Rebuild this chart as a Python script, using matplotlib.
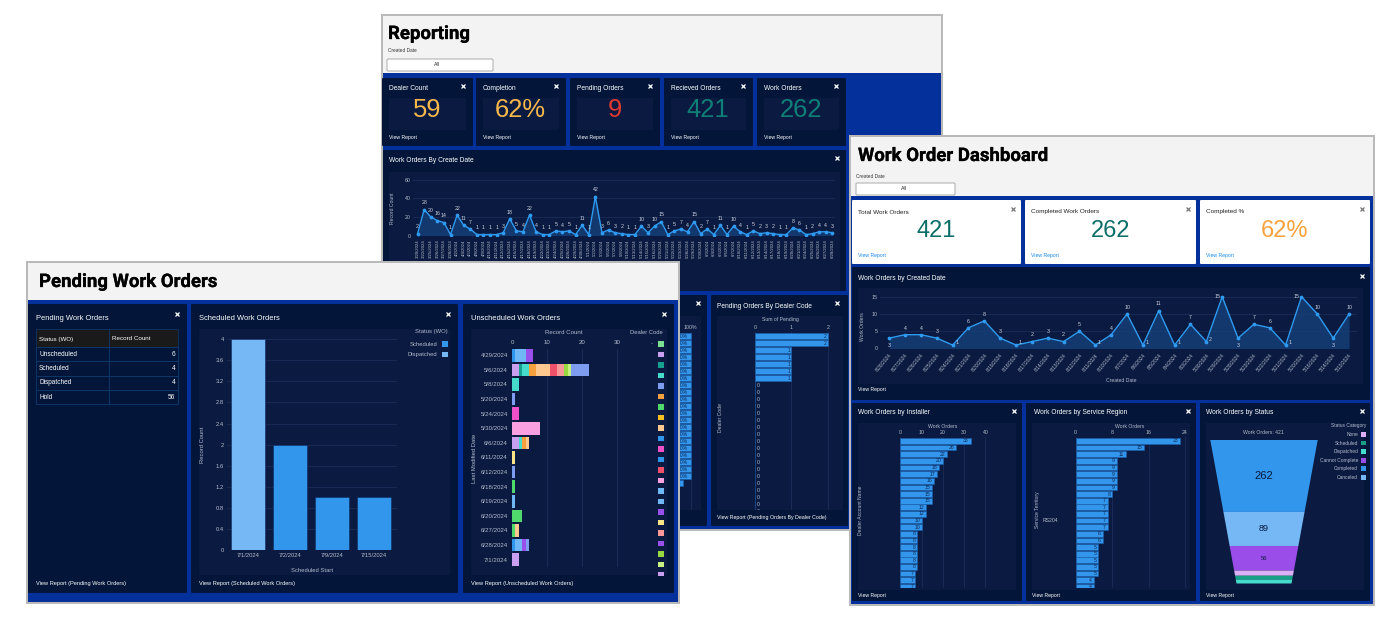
import numpy as np
import matplotlib
matplotlib.use('Agg')
import matplotlib.pyplot as plt
import matplotlib.patheffects as pe
from matplotlib.patches import Rectangle, FancyBboxPatch

plt.rcParams['font.family'] = ['Liberation Sans', 'DejaVu Sans']

W, H = 1392, 629

# data
report_values = [2, 28, 20, 16, 14, 1, 22, 11, 7, 1, 1, 1, 1, 3, 18, 5, 4, 22, 4, 1, 1, 5, 4, 5, 1, 11, 1, 42, 3, 6, 3,
                 2, 1, 1, 10, 3, 10, 15, 1, 5, 7, 4, 15, 2, 7, 1, 11, 1, 10, 4, 1, 5, 2, 3, 2, 1, 1, 8, 6, 1, 2, 4, 4, 3]
report_dates = ['3/20/2024', '3/22/2024', '3/25/2024', '3/26/2024', '3/27/2024', '3/28/2024', '4/2/2024', '4/4/2024',
                '4/5/2024', '4/8/2024', '4/9/2024', '4/10/2024', '4/11/2024', '4/12/2024', '4/15/2024', '4/16/2024',
                '4/17/2024', '4/18/2024', '4/19/2024', '4/22/2024', '4/23/2024', '4/24/2024', '4/25/2024', '4/26/2024',
                '4/29/2024', '4/30/2024', '5/1/2024', '5/2/2024', '5/3/2024', '5/6/2024', '5/7/2024', '5/8/2024',
                '5/10/2024', '5/13/2024', '5/14/2024', '5/15/2024', '5/16/2024', '5/20/2024', '5/21/2024', '5/22/2024',
                '5/23/2024', '5/28/2024', '5/29/2024', '5/30/2024', '6/3/2024', '6/4/2024', '6/5/2024', '6/6/2024',
                '6/7/2024', '6/10/2024', '6/11/2024', '6/12/2024', '6/13/2024', '6/14/2024', '6/17/2024', '6/18/2024',
                '6/19/2024', '6/20/2024', '6/21/2024', '6/24/2024', '6/25/2024', '6/26/2024', '6/27/2024', '6/28/2024']

dash_values = [3, 4, 4, 3, 1, 6, 8, 3, 1, 2, 3, 2, 5, 1, 4, 10, 1, 11, 1, 7, 2, 15, 3, 7, 6, 1, 15, 10, 3, 10]
dash_dates = ['6/28/2024', '6/27/2024', '6/26/2024', '6/25/2024', '6/24/2024', '6/21/2024', '6/20/2024', '6/19/2024',
              '6/18/2024', '6/17/2024', '6/14/2024', '6/13/2024', '6/12/2024', '6/11/2024', '6/10/2024', '6/7/2024',
              '6/6/2024', '6/5/2024', '6/4/2024', '6/3/2024', '5/30/2024', '5/29/2024', '5/28/2024', '5/23/2024',
              '5/22/2024', '5/21/2024', '5/20/2024', '5/16/2024', '5/14/2024', '5/13/2024']

installer_values = [33, 26, 22, 20, 18, 17, 16, 15, 15, 15, 12, 12, 10, 10, 8, 8, 8, 8, 8, 8, 7, 7, 7]
region_values = [23, 15, 11, 9, 9, 9, 9, 9, 8, 7, 7, 7, 7, 7, 6, 6, 5, 5, 5, 5, 5, 4, 4]
dealer_pending = [2, 2, 1, 1, 1, 1, 1] + [0] * 19
completion_pct = [100] * 21 + [97]

status_names = ['Completed', 'Canceled', 'Cannot Complete', 'None', 'Scheduled', 'Dispatched']
status_values = [262, 89, 56, 6, 4, 4]
status_legend = ['None', 'Scheduled', 'Dispatched', 'Cannot Complete', 'Completed', 'Canceled']

table_rows = ['Unscheduled', 'Scheduled', 'Dispatched', 'Hold']
table_counts = [6, 4, 4, 56]

sched_dates = ['7/1/2024', '7/2/2024', '7/9/2024', '7/15/2024']
sched_dispatched = [4, 0, 0, 0]
sched_scheduled = [0, 2, 1, 1]

unsched_dates = ['4/29/2024', '5/6/2024', '5/8/2024', '5/20/2024', '5/24/2024', '5/30/2024', '6/6/2024', '6/11/2024',
                 '6/12/2024', '6/18/2024', '6/19/2024', '6/20/2024', '6/27/2024', '6/28/2024', '7/1/2024']
# one list per date, dealer index and count for each stacked piece
unsched_dealers = [[9, 14, 16], [1, 2, 3, 5, 8, 12, 18, 20, 21, 4], [3], [4], [10], [13], [1, 3, 5, 8], [17], [4], [6],
                   [14], [6], [6, 8], [9, 14, 16, 4], [1]]
unsched_counts = [[1, 3, 2], [2, 1, 2, 2, 4, 2, 2, 1, 1, 5], [2], [1], [2], [8], [2, 1, 1, 1], [1], [1], [1],
                  [1], [3], [1, 1], [1, 2, 1, 1], [2]]
dealer_colors = ['#7be38f', '#c9a0f0', '#16a090', '#45dccb', '#7f9df0', '#f5a03c', '#4fd86c', '#f5c020', '#fcc890',
                 '#2f96ec', '#f050c8', '#2f96ec', '#f0506a', '#f8a0e0', '#70b8f5', '#70b8f5', '#9a50ea', '#fce488',
                 '#f89898', '#9a50ea', '#98d840', '#c8f080', '#c9a0f0']

# colours
BORDER = '#b9b9b9'
HEADER = '#f3f3f3'
BLUE = '#04309c'
PANEL = '#031639'
INNER = '#0a1a40'
GRID = '#1b2d58'
TICK = '#b4bdcc'
LINE = '#2f9bf0'
BAR = '#3296ed'
LIGHT = '#76b8f5'
PURPLE = '#9b4dea'
status_colors = {'Completed': BAR, 'Canceled': LIGHT, 'Cannot Complete': PURPLE, 'None': '#dcb0f5',
                 'Scheduled': '#16a085', 'Dispatched': '#45dccb'}

fig = plt.figure(figsize=(W / 100, H / 100), dpi=100, facecolor='white')


def layer(z):
    ax = fig.add_axes([0, 0, 1, 1], zorder=z)
    ax.set_xlim(0, W)
    ax.set_ylim(H, 0)
    ax.axis('off')
    return ax


def box(ax, x0, y0, x1, y1, color, edge='none', lw=0, rounded=False):
    if rounded:
        ax.add_patch(FancyBboxPatch((x0 + 1, y0 + 1), x1 - x0 - 2, y1 - y0 - 2, boxstyle='round,pad=1',
                                    fc=color, ec=edge, lw=lw))
    else:
        ax.add_patch(Rectangle((x0, y0), x1 - x0, y1 - y0, fc=color, ec=edge, lw=lw))


def txt(ax, x, y, s, size=4.8, color='white', ha='left', **kw):
    ax.text(x, y, s, fontsize=size, color=color, ha=ha, va='center', **kw)


def heading(ax, x, y, s):
    # the font has no heavier face here, so stroke it a little
    t = ax.text(x, y, s, fontsize=13.4, color='black', va='center', family='Roboto', weight='bold')
    t.set_path_effects([pe.withStroke(linewidth=0.2, foreground='black')])


def icon(ax, x, y, color='white'):
    ax.plot([x], [y], marker='x', ms=3, mew=0.9, color=color, ls='none')


def chart_axes(x0, y0, x1, y1, z):
    ax = fig.add_axes([x0 / W, 1 - y1 / H, (x1 - x0) / W, (y1 - y0) / H], zorder=z)
    ax.patch.set_visible(False)
    for s in ax.spines.values():
        s.set_visible(False)
    ax.tick_params(length=0, labelcolor=TICK, labelsize=3.8, pad=1.5)
    ax.set_axisbelow(True)
    return ax


def line_chart(ax, values, dates, rotation, below=(), right=(), left=()):
    xs = np.arange(len(values))
    ax.fill_between(xs, values, 0, color='#15407a', alpha=0.8, lw=0)
    ax.plot(xs, values, color=LINE, lw=1.0, marker='o', ms=1.7)
    for i, v in enumerate(values):
        off = (0, 3.0)
        if i in below:
            off = (0, -5.5)
        elif i in right:
            off = (3, 1.5)
        elif i in left:
            off = (-3.5, 0)
        ax.annotate(str(v), (i, v), xytext=off, textcoords='offset points', ha='center', va='center' if off[1] < 3 else 'bottom',
                    fontsize=3.8, color='#ccd3df')
    ax.set_xticks(xs)
    if rotation == 90:
        ax.set_xticklabels(dates, rotation=90, fontsize=3.1)
    else:
        ax.set_xticklabels(dates, rotation=rotation, fontsize=3.5, ha='right', rotation_mode='anchor')
    ax.tick_params(axis='x', pad=3)
    ax.grid(axis='y', color=GRID, lw=0.6)


def hbars(ax, values, color=BAR):
    ys = np.arange(len(values))
    ax.barh(ys, values, height=0.86, color=color, edgecolor='#1d5fae', lw=0.4)
    ax.xaxis.tick_top()
    ax.grid(axis='x', color=GRID, lw=0.6)
    ax.set_yticks([])


# --- Reporting, at the back
rp = layer(1)
box(rp, 381, 14, 943, 531, BORDER)
box(rp, 383, 16, 941, 73, HEADER)
box(rp, 383, 73, 941, 529, BLUE)
heading(rp, 388, 34, 'Reporting')
txt(rp, 388, 51, 'Created Date', 3.4, '#333333')
box(rp, 387, 59, 493, 71, 'white', '#aaaaaa', 0.7, True)
txt(rp, 437, 65, 'All', 3.8, '#222222', ha='center')

card_x = [(382, 473), (476, 566), (570, 660), (664, 753), (757, 846)]
card_titles = ['Dealer Count', 'Completion', 'Pending Orders', 'Recieved Orders', 'Work Orders']
card_numbers = ['59', '62%', '9', '421', '262']
card_colors = ['#f7b84b', '#f7b84b', '#e0392f', '#0f7f78', '#0f7f78']
for (x0, x1), t, n, c in zip(card_x, card_titles, card_numbers, card_colors):
    box(rp, x0, 78, x1, 146, PANEL, rounded=True)
    box(rp, x0 + 7, 98, x1 - 7, 130, INNER)
    txt(rp, x0 + 7, 89, t)
    txt(rp, (x0 + x1) / 2 - 0.5, 110, n, 18.4, c, ha='center')
    txt(rp, x0 + 7, 137, 'View Report', 3.7)
    icon(rp, x1 - 10, 86)

box(rp, 383, 150, 846, 291, PANEL, rounded=True)
box(rp, 389, 172, 840, 291, INNER)
txt(rp, 389, 161, 'Work Orders By Create Date')
txt(rp, 392, 208, 'Record Count', 3.6, TICK, ha='center', rotation=90)
icon(rp, 837, 158)

box(rp, 383, 295, 707, 526, PANEL, rounded=True)
box(rp, 390, 316, 701, 510, INNER)
icon(rp, 698, 303)
box(rp, 711, 295, 848, 526, PANEL, rounded=True)
box(rp, 717, 316, 843, 510, INNER)
txt(rp, 717, 306, 'Pending Orders By Dealer Code')
txt(rp, 780, 319, 'Sum of Pending', 3.7, TICK, ha='center')
txt(rp, 720, 418, 'Dealer Code', 3.7, TICK, ha='center', rotation=90)
txt(rp, 717, 517, 'View Report (Pending Orders By Dealer Code)', 3.8)
icon(rp, 837, 303)

a = chart_axes(413, 178, 835, 235.5, 2)
line_chart(a, report_values, report_dates, 90)
a.set_xlim(-0.7, 63.4)
a.set_ylim(0, 62)
a.set_yticks([0, 20, 40, 60])

a = chart_axes(440, 332, 696, 510, 2)
hbars(a, completion_pct)
for i, v in enumerate(completion_pct):
    a.text(v - 1, i, f'{v}%', fontsize=3.7, color='#0f2a55', ha='right', va='center', clip_on=True)
a.set_xlim(0, 102.1)
a.set_ylim(24.8, -0.6)
a.set_xticks([100])
a.set_xticklabels(['100%'])

a = chart_axes(755, 332, 840, 510, 2)
hbars(a, dealer_pending)
for i, v in enumerate(dealer_pending):
    if v:
        a.text(v - 0.04, i, str(v), fontsize=3.7, color='#0f2a55', ha='right', va='center', clip_on=True)
    else:
        a.text(0.06, i, '0', fontsize=3.7, color=TICK, ha='left', va='center', clip_on=True)
a.set_xlim(0, 2.33)
a.set_ylim(24.8, -0.6)
a.set_xticks([0, 1, 2])

# --- Work Order Dashboard
ds = layer(11)
box(ds, 849, 135, 1375, 606, BORDER)
box(ds, 851, 137, 1373, 196, HEADER)
box(ds, 851, 196, 1373, 604, BLUE)
heading(ds, 858, 156, 'Work Order Dashboard')
txt(ds, 856, 176, 'Created Date', 3.4, '#333333')
box(ds, 856, 183, 955, 195, 'white', '#aaaaaa', 0.7, True)
txt(ds, 904, 189, 'All', 3.8, '#222222', ha='center')

dcard_x = [(852, 1021), (1025, 1196), (1200, 1370)]
dcard_titles = ['Total Work Orders', 'Completed Work Orders', 'Completed %']
dcard_numbers = ['421', '262', '62%']
dcard_colors = ['#0b6e68', '#0b6e68', '#f9a23c']
for (x0, x1), t, n, c in zip(dcard_x, dcard_titles, dcard_numbers, dcard_colors):
    box(ds, x0, 200, x1, 264, 'white', rounded=True)
    txt(ds, x0 + 6, 212, t, 4.6, '#222222')
    txt(ds, (x0 + x1) / 2, 231, n, 17, c, ha='center')
    txt(ds, x0 + 6, 255, 'View Report', 3.7, '#1589ee')
    icon(ds, x1 - 8, 209, '#777777')

box(ds, 852, 267, 1370, 400, PANEL, rounded=True)
box(ds, 858, 288, 1363, 384, INNER)
txt(ds, 858, 278, 'Work Orders by Created Date')
txt(ds, 862, 327, 'Work Orders', 3.6, TICK, ha='center', rotation=90)
txt(ds, 1121, 380, 'Created Date', 3.7, TICK, ha='center')
txt(ds, 858, 390, 'View Report', 3.7)
icon(ds, 1362, 276)

a = chart_axes(880, 295, 1357, 348.5, 12)
line_chart(a, dash_values, dash_dates, 50, below=(0, 22, 28), right=(4, 8, 13, 16, 18, 20, 25), left=(21, 26))
a.set_xlim(-0.58, 29.5)
a.set_ylim(0, 15.5)
a.set_yticks([0, 5, 10, 15])

panel_x = [(852, 1022), (1026, 1196), (1200, 1370)]
panel_titles = ['Work Orders by Installer', 'Work Orders by Service Region', 'Work Orders by Status']
for (x0, x1), t in zip(panel_x, panel_titles):
    box(ds, x0, 403, x1, 601, PANEL, rounded=True)
    box(ds, x0 + 6, 423, x1 - 6, 590, INNER)
    txt(ds, x0 + 6 if x0 != 1026 else x0 + 8, 413, t)
    txt(ds, x0 + 6, 595, 'View Report', 3.7)
    icon(ds, x1 - 8, 411)

txt(ds, 943, 426, 'Work Orders', 3.7, TICK, ha='center')
txt(ds, 860, 510, 'Dealer Account Name', 3.6, TICK, ha='center', rotation=90)
txt(ds, 1130, 426, 'Work Orders', 3.7, TICK, ha='center')
txt(ds, 1037, 510, 'Service Territory', 3.6, TICK, ha='center', rotation=90)
txt(ds, 1050, 521, 'RS204', 3.7, TICK, ha='center')
txt(ds, 1263, 432, 'Work Orders: 421', 3.7, TICK, ha='center')

txt(ds, 1366, 425, 'Status Category', 3.5, TICK, ha='right')
for i, name in enumerate(status_legend):
    y = 434.5 + i * 8.55
    txt(ds, 1358, y, name, 3.5, TICK, ha='right')
    box(ds, 1361, y - 2.4, 1366, y + 2.4, status_colors[name])

a = chart_axes(900.5, 437, 1008, 588, 12)
hbars(a, installer_values)
for i, v in enumerate(installer_values):
    a.text(v - 0.8, i, str(v), fontsize=3.7, color='#0f2a55', ha='right', va='center')
a.set_xlim(0, 50.6)
a.set_ylim(22.17, -0.6)
a.set_xticks([0, 10, 20, 30, 40])

a = chart_axes(1075.6, 437, 1195, 588, 12)
hbars(a, region_values)
for i, v in enumerate(region_values):
    a.text(v - 0.4, i, str(v), fontsize=3.7, color='#0f2a55', ha='right', va='center')
a.set_xlim(0, 26.2)
a.set_ylim(22.17, -0.6)
a.set_xticks([0, 8, 16, 24])

# funnel: heights follow value ** 0.7, sides narrow evenly
a = chart_axes(1205, 439.5, 1323, 583.5, 12)
heights = np.array(status_values, dtype=float) ** 0.7
edges = np.concatenate([[0], np.cumsum(heights)])
half = lambda y: 53.8 - (53.8 - 27.5) * y / edges[-1]
for name, v, y0, y1 in zip(status_names, status_values, edges[:-1], edges[1:]):
    a.fill([-half(y0), half(y0), half(y1), -half(y1)], [y0, y0, y1, y1], color=status_colors[name], lw=0)
    if v > 20:
        size = {262: 8, 89: 6.5, 56: 4.2}[v]
        a.text(0, (y0 + y1) / 2, str(v), fontsize=size, color='#0a1a40', ha='center', va='center')
a.set_xlim(-59, 59)
a.set_ylim(edges[-1], 0)
a.set_xticks([])
a.set_yticks([])

# --- Pending Work Orders, in front
pn = layer(21)
box(pn, 26, 261, 680, 604, BORDER)
box(pn, 28, 263, 678, 300, HEADER)
box(pn, 28, 300, 678, 602, BLUE)
heading(pn, 39, 282, 'Pending Work Orders')

box(pn, 28, 304, 187, 593, PANEL, rounded=True)
box(pn, 191, 304, 458, 593, PANEL, rounded=True)
box(pn, 463, 304, 674, 593, PANEL, rounded=True)
txt(pn, 36, 318, 'Pending Work Orders', 5.4)
txt(pn, 199, 318, 'Scheduled Work Orders', 5.4)
txt(pn, 471, 318, 'Unscheduled Work Orders', 5.4)
icon(pn, 177, 314)
icon(pn, 448, 314)
icon(pn, 664, 314)
txt(pn, 36, 583, 'View Report (Pending Work Orders)', 4.1)
txt(pn, 199, 583, 'View Report (Scheduled Work Orders)', 4.1)
txt(pn, 471, 583, 'View Report (Unscheduled Work Orders)', 4.1)

# table
box(pn, 36, 329, 178, 347, '#1a1a1a', '#0e3a6e', 0.5)
txt(pn, 39, 339, 'Status (WO)', 4.5)
txt(pn, 112, 339, 'Record Count', 4.5)
row_h = 14.3
for i, (r, n) in enumerate(zip(table_rows, table_counts)):
    y0 = 347 + i * row_h
    box(pn, 36, y0, 178, y0 + row_h, PANEL, '#0e3a6e', 0.6)
    txt(pn, 39, y0 + row_h / 2, r, 4.7)
    txt(pn, 175, y0 + row_h / 2, str(n), 4.7, ha='right')
pn.plot([109, 109], [329, 404], color='#0e3a6e', lw=0.6)

# scheduled chart frame
box(pn, 199, 329, 450, 575, INNER)
txt(pn, 203, 445, 'Record Count', 4.2, TICK, ha='center', rotation=90)
txt(pn, 312, 570, 'Scheduled Start', 4.2, TICK, ha='center')
txt(pn, 448, 332, 'Status (WO)', 4.2, TICK, ha='right')
for y, name, c in [(344, 'Scheduled', BAR), (354.7, 'Dispatched', LIGHT)]:
    txt(pn, 437, y, name, 4.2, TICK, ha='right')
    box(pn, 442, y - 2.6, 447.5, y + 2.6, c)

a = chart_axes(227, 335, 396.5, 550, 22)
xs = np.arange(len(sched_dates))
a.bar(xs, sched_dispatched, width=0.81, color=LIGHT, edgecolor='#0d2a60', lw=0.4)
a.bar(xs, sched_scheduled, width=0.81, color=BAR, edgecolor='#0d2a60', lw=0.4)
a.set_xlim(-0.5, 3.53)
a.set_ylim(0, 4.08)
a.set_yticks([0, 0.4, 0.8, 1.2, 1.6, 2, 2.4, 2.8, 3.2, 3.6, 4])
a.set_yticklabels(['0', '0.4', '0.8', '1.2', '1.6', '2', '2.4', '2.8', '3.2', '3.6', '4'])
a.set_xticks(xs)
a.set_xticklabels(sched_dates)
a.tick_params(labelsize=4.2, pad=2.2)
a.grid(axis='y', color=GRID, lw=0.6)

# unscheduled chart frame
box(pn, 471, 329, 667, 575, INNER)
txt(pn, 564, 333, 'Record Count', 4.4, TICK, ha='center')
txt(pn, 663, 332, 'Dealer Code', 4.2, TICK, ha='right')
txt(pn, 652, 344, '-', 4.2, TICK, ha='center')
txt(pn, 474, 458, 'Last Modified Date', 4.2, TICK, ha='center', rotation=90)
for i, c in enumerate(dealer_colors):
    y = 344 + i * 10.5
    box(pn, 658, y - 2.7, 663.5, min(y + 2.7, 576), c)

a = chart_axes(512, 349, 640, 567, 22)
for row, (dealers, counts) in enumerate(zip(unsched_dealers, unsched_counts)):
    left = 0
    for d, n in zip(dealers, counts):
        a.barh(row, n, left=left, height=0.87, color=dealer_colors[d], lw=0)
        left += n
a.xaxis.tick_top()
a.grid(axis='x', color=GRID, lw=0.6)
a.set_xlim(0, 36.6)
a.set_ylim(14.5, -0.43)
a.set_xticks([0, 10, 20, 30])
a.set_yticks(np.arange(len(unsched_dates)))
a.set_yticklabels(unsched_dates)
a.tick_params(labelsize=4.4, pad=3)

fig.savefig('out.png', dpi=100)
